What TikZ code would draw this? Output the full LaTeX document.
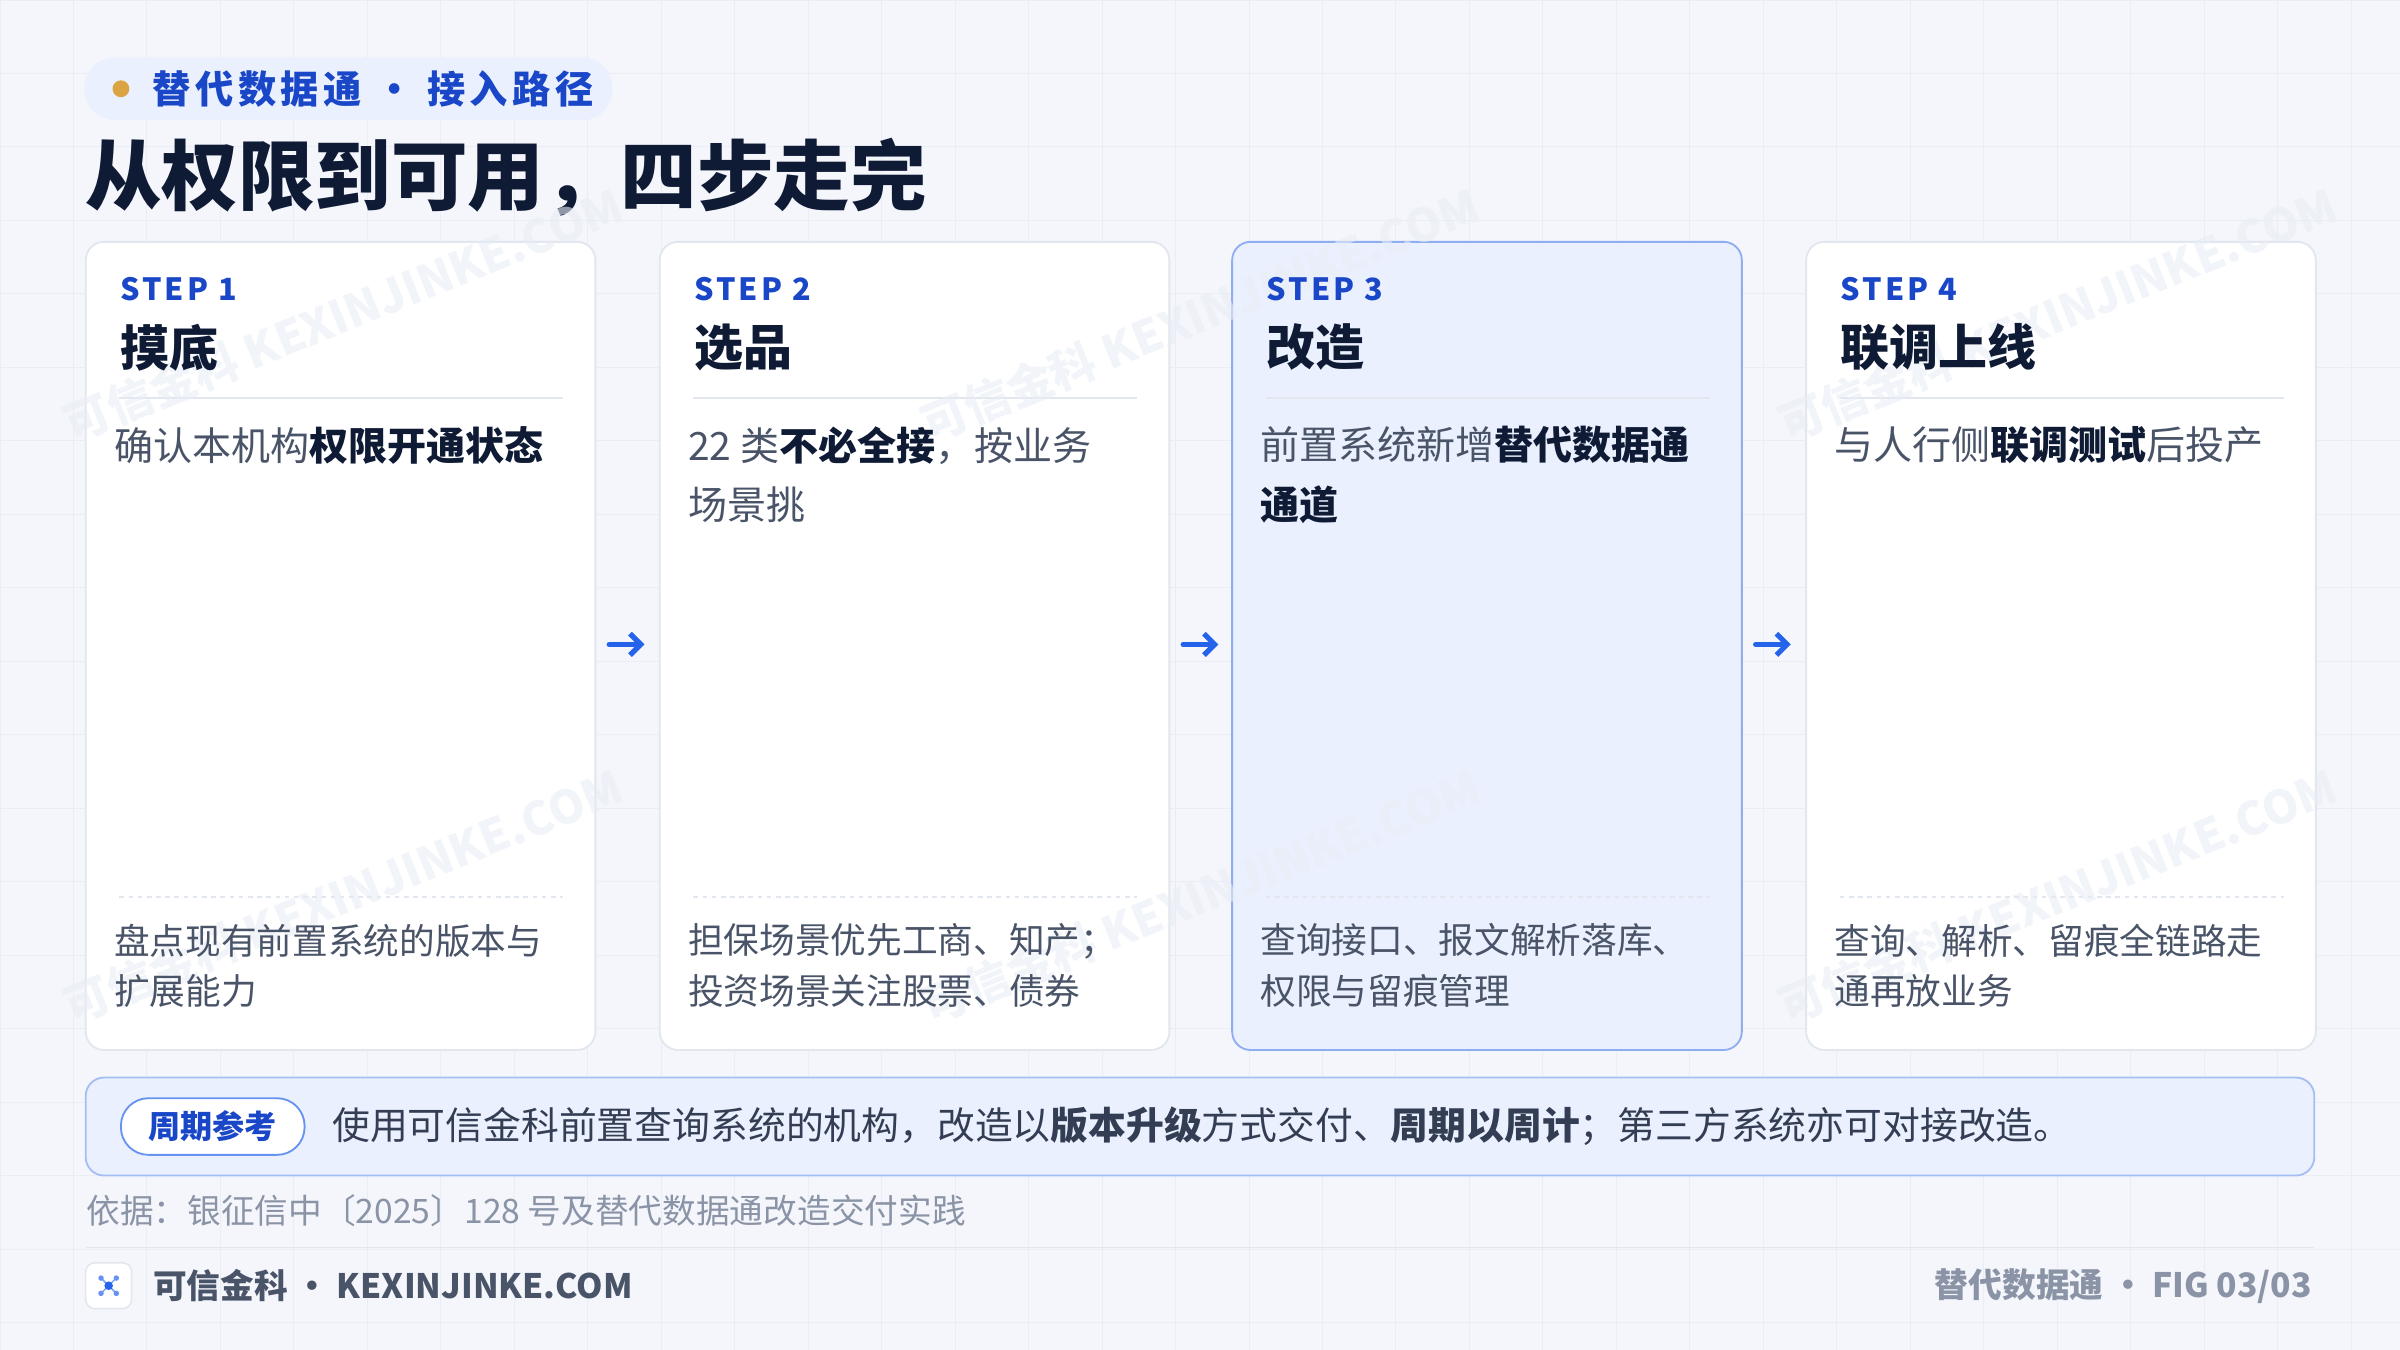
\documentclass[tikz,border=0pt]{standalone}
\usepackage{fontspec}
\setmainfont{Noto Sans CJK SC}
\usetikzlibrary{positioning,arrows.meta}
\definecolor{bgc}{HTML}{F4F6FB}
\definecolor{gridc}{HTML}{E9EDF5}
\definecolor{blu}{HTML}{1A47C8}
\definecolor{arr}{HTML}{2563EB}
\definecolor{ink}{HTML}{0F1B35}
\definecolor{txt}{HTML}{4A5468}
\definecolor{mut}{HTML}{8A94A6}
\definecolor{cardl}{HTML}{E1E6EF}
\definecolor{hil}{HTML}{EAF0FD}
\definecolor{hilb}{HTML}{8FAEF2}
\definecolor{gold}{HTML}{D9A441}
\newcommand{\fs}[1]{\fontsize{#1}{#1}\selectfont}
\tikzset{
  card/.style={draw=cardl, line width=1.2pt, fill=white, rounded corners=12pt},
  steplbl/.style={anchor=west, text=blu, font=\fs{20}\bfseries\addfontfeature{LetterSpace=10}},
  head/.style={anchor=west, text=ink, font=\fs{32}\bfseries},
  body/.style={anchor=north west, text=txt, align=left, font=\fontsize{25.5}{39}\selectfont},
  foot/.style={anchor=north west, text=txt, align=left, font=\fontsize{23.3}{33}\selectfont},
  flow/.style={-{Straight Barb[length=7pt,width=14pt,line width=3.4pt]}, draw=arr, line width=3.4pt, line cap=round},
  wm/.style={text=gridc, opacity=.6, rotate=22, font=\fs{30}\bfseries, anchor=west}
}
\begin{document}
\begin{tikzpicture}[x=1pt,y=-1pt]
  \useasboundingbox (0,0) rectangle (1568,882);
  \fill[bgc] (0,0) rectangle (1568,882);
  % background grid
  \foreach \gx in {0,48,...,1568} \draw[gridc, line width=.6pt] (\gx,0) -- (\gx,882);
  \foreach \gy in {0,48,...,882} \draw[gridc, line width=.6pt] (0,\gy) -- (1568,\gy);
  % tag and title
  \node[draw=none, fill=hil, rounded corners=20pt, minimum width=345, minimum height=41, anchor=west] (tag) at (55,58) {};
  \fill[gold] (79,58) circle (5.5);
  \node[anchor=west, text=blu, font=\fs{25}\bfseries\addfontfeature{LetterSpace=12}] (tagtxt) at (96,58) {替代数据通 · 接入路径};
  \node[anchor=west, text=ink, font=\fs{50}\bfseries] (title) at (52,116) {从权限到可用，四步走完};
  % cards
  \foreach \cx/\n in {56/1,431/2,805/3,1180/4} {
    \ifnum\n=3
      \draw[card, fill=hil, draw=hilb] (\cx,158) rectangle ++(333,528);
    \else
      \draw[card] (\cx,158) rectangle ++(333,528);
    \fi
    \draw[cardl, line width=1.2pt] (\cx+22,260) -- ++(290,0);
    \draw[cardl, line width=1.2pt, dash pattern=on 3pt off 3pt] (\cx+22,586) -- ++(290,0);
  }
  % watermarks
  \foreach \wx/\wy in {40/280,600/280,1160/280,40/660,600/660,1160/660}
    \node[wm] at (\wx,\wy) {可信金科 KEXINJINKE.COM};
  \foreach \cx/\n in {56/1,431/2,805/3,1180/4}
    \node[steplbl] (s\n) at (\cx+19,189) {STEP \n};
  \node[head] (h1) at (75,227) {摸底};
  \node[head] (h2) at (450,227) {选品};
  \node[head] (h3) at (824,227) {改造};
  \node[head] (h4) at (1199,227) {联调上线};
  \node[body] (b1) at (71,275) {确认本机构\textcolor{ink}{\textbf{权限开通状态}}};
  \node[body] (b2) at (446,275) {22 类\textcolor{ink}{\textbf{不必全接}}，按业务\\场景挑};
  \node[body] (b3) at (820,275) {前置系统新增\textcolor{ink}{\textbf{替代数据通}}\\\textcolor{ink}{\textbf{通道}}};
  \node[body] (b4) at (1195,275) {与人行侧\textcolor{ink}{\textbf{联调测试}}后投产};
  \node[foot] (f1) at (71,600) {盘点现有前置系统的版本与\\扩展能力};
  \node[foot] (f2) at (446,600) {担保场景优先工商、知产；\\投资场景关注股票、债券};
  \node[foot] (f3) at (820,600) {查询接口、报文解析落库、\\权限与留痕管理};
  \node[foot] (f4) at (1195,600) {查询、解析、留痕全链路走\\通再放业务};
  % arrows between cards
  \foreach \ax in {398,773,1147}
    \draw[flow] (\ax,421) -- ++(23,0);
  % note bar
  \draw[fill=hil, draw=hilb!80, line width=1.2pt, rounded corners=12pt] (56,704) rectangle (1512,768);
  \node[draw=arr!70, fill=white, line width=1.2pt, rounded corners=18pt, minimum width=120, minimum height=37, text=blu, font=\fs{21}\bfseries] (pill) at (139,736) {周期参考};
  \node[right=14pt of pill, text=ink!85, font=\fs{24.7}] (note) {使用可信金科前置查询系统的机构，改造以\textbf{版本升级}方式交付、\textbf{周期以周计}；第三方系统亦可对接改造。};
  \node[anchor=west, text=mut, font=\fs{22}] (src) at (53,791) {依据：银征信中〔2025〕128 号及替代数据通改造交付实践};
  % footer
  \draw[cardl, line width=1.2pt] (56,815) -- (1512,815);
  \node[draw=cardl, fill=white, rounded corners=6pt, minimum size=30, line width=1pt] (logo) at (71,840) {};
  \foreach \dx/\dy in {-5/-5,5/-5,-5/5,5/5} {
    \draw[arr!60, line width=1pt] (logo.center) -- ++(\dx,\dy);
    \fill[arr!70] ([shift={(\dx,\dy)}]logo.center) circle (1.8);
  }
  \fill[arr] (logo.center) circle (2.8);
  \node[right=10pt of logo, text=txt, font=\fs{22}\bfseries] (brand) {可信金科 · KEXINJINKE.COM};
  \node[anchor=east, text=mut, font=\fs{22}\bfseries] (fig) at (1514,840) {替代数据通 · FIG 03/03};
\end{tikzpicture}
\end{document}
